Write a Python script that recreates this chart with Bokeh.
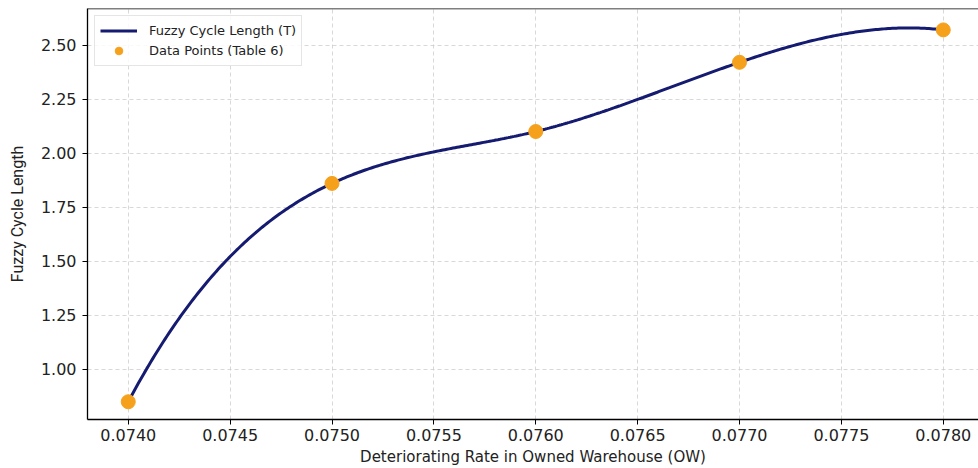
import numpy as np
from bokeh.plotting import figure
from bokeh.models import FixedTicker, NumeralTickFormatter, Range1d, Span, Legend, LegendItem
from bokeh.embed import file_html
from bokeh.resources import INLINE

# ---- data ----
det_rate = [0.0740, 0.0750, 0.0760, 0.0770, 0.0780]
cycle_len = [0.85, 1.86, 2.10, 2.42, 2.57]
x_ticks = [0.0740, 0.0745, 0.0750, 0.0755, 0.0760, 0.0765, 0.0770, 0.0775, 0.0780]
y_ticks = [1.00, 1.25, 1.50, 1.75, 2.00, 2.25, 2.50]


def not_a_knot_spline(x, y, num=400):
    """Cubic spline with not-a-knot end conditions through the given points."""
    x = np.asarray(x, float)
    y = np.asarray(y, float)
    x0, span = x[0], x[-1] - x[0]
    u = (x - x0) / span
    n = len(u) - 1
    h = np.diff(u)
    A = np.zeros((4 * n, 4 * n))
    b = np.zeros(4 * n)
    r = 0
    for i in range(n):
        A[r, 4 * i] = 1
        b[r] = y[i]
        r += 1
        A[r, 4 * i:4 * i + 4] = [1, h[i], h[i] ** 2, h[i] ** 3]
        b[r] = y[i + 1]
        r += 1
    for i in range(n - 1):
        A[r, 4 * i:4 * i + 4] = [0, 1, 2 * h[i], 3 * h[i] ** 2]
        A[r, 4 * (i + 1) + 1] = -1
        r += 1
        A[r, 4 * i:4 * i + 4] = [0, 0, 2, 6 * h[i]]
        A[r, 4 * (i + 1) + 2] = -2
        r += 1
    A[r, 3] = 1
    A[r, 7] = -1
    r += 1
    A[r, 4 * (n - 2) + 3] = 1
    A[r, 4 * (n - 1) + 3] = -1
    c = np.linalg.solve(A, b).reshape(n, 4)
    uu = np.linspace(0, 1, num)
    idx = np.clip(np.searchsorted(u, uu, side="right") - 1, 0, n - 1)
    t = uu - u[idx]
    yy = c[idx, 0] + c[idx, 1] * t + c[idx, 2] * t ** 2 + c[idx, 3] * t ** 3
    return x0 + uu * span, yy


xs, ys = not_a_knot_spline(det_rate, cycle_len)

FONT = "DejaVu Sans"

p = figure(
    width=978, height=468,
    output_backend="svg", toolbar_location=None,
    x_range=Range1d(0.0738, 0.078173), y_range=Range1d(0.768, 2.669),
    min_border_left=87, min_border_right=0, min_border_top=8, min_border_bottom=47,
)
p.outline_line_color = None
p.background_fill_color = "white"

line_r = p.line(xs, ys, line_color="#151b70", line_width=3)
pts_r = p.scatter(det_rate, cycle_len, size=14, fill_color="#f6a11c", line_color="#f6a11c")

# top spine
p.add_layout(Span(location=2.669, dimension="width", line_color="black", line_width=1.3))

for ax in (p.xaxis[0], p.yaxis[0]):
    ax.axis_line_color = "black"
    ax.axis_line_width = 1.3
    ax.major_tick_line_color = "black"
    ax.major_tick_in = 0
    ax.major_tick_out = 5
    ax.minor_tick_line_color = None
    ax.major_label_text_font = FONT
    ax.major_label_text_font_size = "16px"
    ax.major_label_text_color = "#222222"
    ax.axis_label_text_font_style = "normal"
    ax.axis_label_text_color = "#222222"

p.xaxis.ticker = FixedTicker(ticks=x_ticks)
p.xaxis.formatter = NumeralTickFormatter(format="0.0000")
p.xaxis.axis_label = "Deteriorating Rate in Owned Warehouse (OW)"
p.xaxis.axis_label_text_font = FONT
p.xaxis.axis_label_text_font_size = "15px"
p.xaxis.major_label_standoff = 4
p.xaxis.axis_label_standoff = 4

p.yaxis.ticker = FixedTicker(ticks=y_ticks)
p.yaxis.formatter = NumeralTickFormatter(format="0.00")
p.yaxis.axis_label = "Fuzzy Cycle Length"
p.yaxis.axis_label_text_font = "Roboto"
p.yaxis.axis_label_text_font_size = "16px"
p.yaxis.major_label_standoff = 6
p.yaxis.axis_label_standoff = 11

for g in (p.xgrid[0], p.ygrid[0]):
    g.grid_line_color = "#c8c8c8"
    g.grid_line_dash = "4 3"
    g.grid_line_width = 0.9
    g.grid_line_alpha = 0.8

legend = Legend(
    items=[
        LegendItem(label="Fuzzy Cycle Length (T)", renderers=[line_r]),
        LegendItem(label="Data Points (Table 6)", renderers=[pts_r]),
    ],
    location="top_left",
    margin=7,
    padding=5,
    spacing=1,
    glyph_width=37,
    glyph_height=19,
    label_height=19,
    label_standoff=12,
    label_text_font=FONT,
    label_text_font_size="13px",
    label_text_color="#222222",
    border_line_color="#cccccc",
    border_line_width=1,
    background_fill_alpha=0.85,
)
p.add_layout(legend)

open("out.html", "w").write(file_html(p, INLINE))
